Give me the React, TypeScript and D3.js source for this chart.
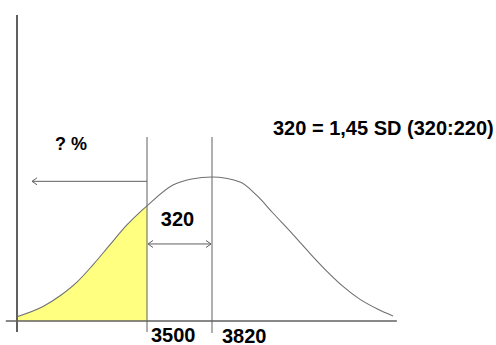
import React from "react";
import * as d3 from "d3";

// Curve: value (g) and relative height (peak = 1)
const curveValues = [2860, 2988, 3072, 3155, 3234, 3318, 3400, 3480, 3500, 3628, 3720, 3820, 3958, 4042, 4120, 4219, 4302, 4386, 4465, 4549, 4632, 4711];
const curveHeights = [0.03, 0.1, 0.175, 0.27, 0.39, 0.53, 0.665, 0.775, 0.8, 0.944, 0.986, 1.0, 0.965, 0.87, 0.75, 0.6, 0.47, 0.345, 0.24, 0.15, 0.085, 0.035];

const cutValue = 3500;
const meanValue = 3820;
const tickLabels = ["3500", "3820"];
const markerValues = [cutValue, meanValue];
const axisExtent = [2805, 4730];
const yAxisValue = 2860;
const leftArrowEnd = 2934;
const formulaText = "320 = 1,45 SD (320:220)";
const diffText = "320";
const questionText = "? %";

export default function App() {
  const W = 496;
  const H = 345;
  const x = d3.scaleLinear().domain([cutValue, meanValue]).range([147, 212]);
  const y = d3.scaleLinear().domain([0, 1]).range([321, 177]);
  const pts = curveValues.map((v, i) => [v, curveHeights[i]] as [number, number]);
  const line = d3
    .line<[number, number]>()
    .x((d) => x(d[0]))
    .y((d) => y(d[1]))
    .curve(d3.curveMonotoneX);
  const area = d3
    .area<[number, number]>()
    .x((d) => x(d[0]))
    .y0(y(0))
    .y1((d) => y(d[1]))
    .curve(d3.curveMonotoneX);
  const font = "'Liberation Sans', Arial, sans-serif";
  const gray = "#606060";
  const yLeftArrow = y(0.97);
  const yDouble = y(0.535);
  const xa = x(leftArrowEnd);
  const x1 = x(cutValue) + 1;
  const x2 = x(meanValue) - 1;
  return (
    <svg width={W} height={H} style={{ position: "absolute", left: 0, top: 0, background: "#fff" }}>
      <defs>
        <clipPath id="leftClip">
          <rect x={0} y={0} width={x(cutValue)} height={H} />
        </clipPath>
      </defs>
      <path d={area(pts) || ""} fill="#ffff80" clipPath="url(#leftClip)" />
      {/* x baseline */}
      <line x1={x(axisExtent[0])} x2={x(axisExtent[1])} y1={y(0)} y2={y(0)} stroke={gray} strokeWidth={1.5} />
      {/* y axis */}
      <line x1={x(yAxisValue)} x2={x(yAxisValue)} y1={15} y2={332} stroke={gray} strokeWidth={2} />
      {/* markers */}
      {markerValues.map((v, i) => (
        <line key={i} x1={x(v)} x2={x(v)} y1={137} y2={332 + i} stroke={gray} strokeWidth={1} />
      ))}
      <path d={line(pts) || ""} fill="none" stroke="#707070" strokeWidth={1.1} />
      {/* left arrow */}
      <line x1={x(cutValue)} x2={xa} y1={yLeftArrow} y2={yLeftArrow} stroke={gray} strokeWidth={1} />
      <path d={`M${xa + 5},${yLeftArrow - 3.5} L${xa},${yLeftArrow} L${xa + 5},${yLeftArrow + 3.5}`} fill="none" stroke={gray} strokeWidth={1} />
      {/* double arrow */}
      <line x1={x1} x2={x2} y1={yDouble} y2={yDouble} stroke={gray} strokeWidth={1} />
      <path d={`M${x1 + 5},${yDouble - 3.5} L${x1},${yDouble} L${x1 + 5},${yDouble + 3.5}`} fill="none" stroke={gray} strokeWidth={1} />
      <path d={`M${x2 - 5},${yDouble - 3.5} L${x2},${yDouble} L${x2 - 5},${yDouble + 3.5}`} fill="none" stroke={gray} strokeWidth={1} />
      {/* texts */}
      <g fontFamily={font} fontWeight="bold" fontSize={20} fill="#000">
        <text x={x(cutValue) + 4} y={342}>{tickLabels[0]}</text>
        <text x={x(meanValue) + 10} y={343}>{tickLabels[1]}</text>
        <text x={(x(cutValue) + x(meanValue)) / 2 - 2} y={226} textAnchor="middle">{diffText}</text>
        <text x={273} y={135}>{formulaText}</text>
        <text x={55} y={150} fontSize={18}>{questionText}</text>
      </g>
    </svg>
  );
}
